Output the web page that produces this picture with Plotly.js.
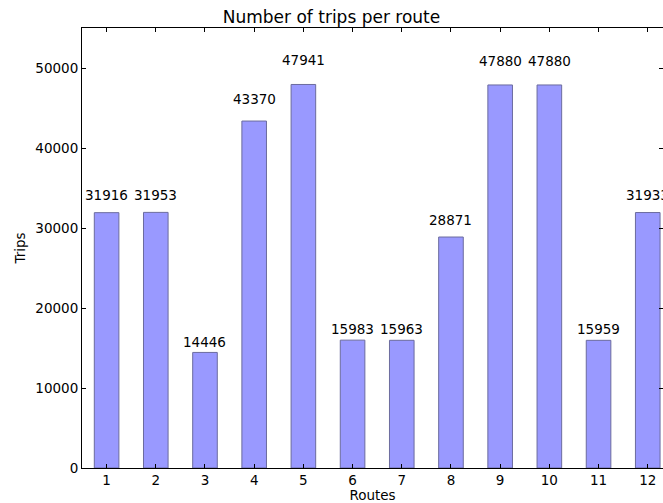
<!DOCTYPE html>
<html>
<head>
<meta charset="utf-8">
<script src="https://cdn.plot.ly/plotly-3.0.1.min.js"></script>
<style>html,body{margin:0;padding:0;overflow:hidden;background:#fff;}#chart{width:663px;height:503px;}</style>
</head>
<body>
<div id="chart"></div>
<script>
var routes = [1, 2, 3, 4, 5, 6, 7, 8, 9, 10, 11, 12];
var trips = [31916, 31953, 14446, 43370, 47941, 15983, 15963, 28871, 47880, 47880, 15959, 31933];
var yTicks = [0, 10000, 20000, 30000, 40000, 50000];

var font = {family: 'DejaVu Sans, sans-serif', size: 13.5, color: '#000'};

var annotations = routes.map(function (r, i) {
  return {
    x: r, y: trips[i] * 1.05, xref: 'x', yref: 'y',
    text: String(trips[i]), showarrow: false,
    xanchor: 'center', yanchor: 'bottom', yshift: -5,
    font: font
  };
});

var data = [{
  type: 'bar',
  x: routes,
  y: trips,
  width: 0.5,
  marker: {color: '#9999ff', line: {color: '#6b6b9e', width: 1}},
  hoverinfo: 'x+y'
}];

var layout = {
  width: 663, height: 503,
  margin: {l: 82, r: 0, t: 28, b: 35},
  paper_bgcolor: '#fff', plot_bgcolor: '#fff',
  font: font,
  title: {text: 'Number of trips per route', font: {family: 'DejaVu Sans, sans-serif', size: 17, color: '#000'}, x: 0.5, xanchor: 'center', y: 0.966, yanchor: 'middle'},
  xaxis: {
    range: [0.5, 12.31], tickvals: routes, ticktext: routes.map(String),
    ticks: 'inside', ticklen: 4, tickcolor: '#000', tickwidth: 1,
    showline: true, linecolor: '#000', linewidth: 1, mirror: 'ticks',
    showgrid: false, zeroline: false,
    title: {text: 'Routes', font: font, standoff: 1},
    tickfont: font
  },
  yaxis: {
    range: [0, 55000], tickvals: yTicks, ticktext: yTicks.map(String),
    ticks: 'inside', ticklen: 4, tickcolor: '#000', tickwidth: 1,
    showline: true, linecolor: '#000', linewidth: 1, mirror: 'ticks',
    showgrid: false, zeroline: false,
    title: {text: 'Trips', font: font, standoff: 6},
    tickfont: font
  },
  annotations: annotations,
  showlegend: false
};

Plotly.newPlot('chart', data, layout, {displayModeBar: false, staticPlot: true});
</script>
</body>
</html>
